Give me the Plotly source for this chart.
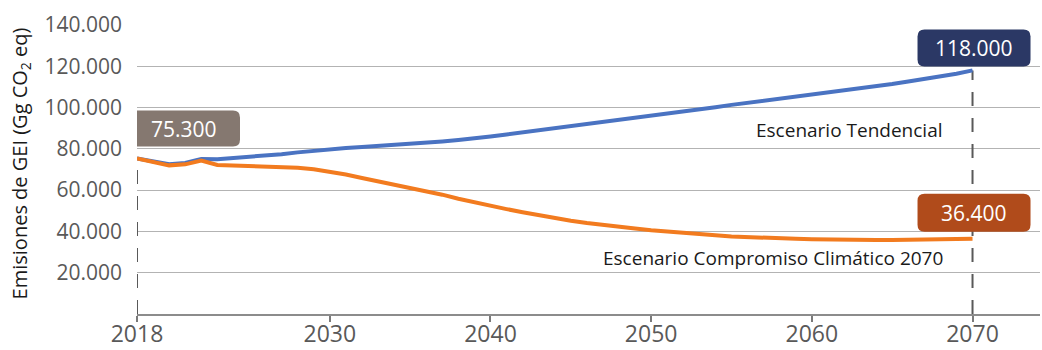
import plotly.graph_objects as go

# Emissions pathways, Gg CO2 eq per year
years = list(range(2018, 2071))

tendencial = [
    75300, 73800, 72500, 73200, 75100, 75000, 75500, 76000, 76600, 77400,
    78300, 79100, 79900, 80400, 80900, 81400, 81800, 82200, 82900, 83600,
    84300, 85000, 86000, 87000, 88000, 89000, 90000, 91000, 91900, 92800,
    93700, 94700, 95800, 96900, 98000, 99100, 100200, 101300, 102300, 103300,
    104300, 105200, 106100, 107000, 108100, 109200, 110300, 111400, 112600, 113800,
    115000, 116400, 118000,
]

compromiso = [
    75300, 73800, 72000, 72500, 74300, 72200, 72000, 71800, 71500, 71300,
    70800, 70100, 69000, 67600, 65900, 64300, 62700, 61200, 59500, 57800,
    55800, 54000, 52300, 50800, 49300, 47800, 46500, 45200, 44100, 43100,
    42200, 41400, 40600, 39900, 39200, 38600, 38100, 37600, 37200, 36900,
    36600, 36400, 36200, 36000, 35900, 35800, 35800, 35900, 36000, 36100,
    36200, 36300, 36400,
]

series_names = ["Escenario Tendencial", "Escenario Compromiso Climático 2070"]
y_ticks = [20000, 40000, 60000, 80000, 100000, 120000, 140000]
x_ticks = [2018, 2030, 2040, 2050, 2060, 2070]

BLUE = "#4a73c2"
ORANGE = "#f27b1f"
FONT = "Open Sans"

fig = go.Figure()

# Dashed guides from the axis up to the first and last values
start_year, end_year = years[0], years[-1]
guide_style = dict(color="#595959", width=2, dash="14px,12px")
fig.add_trace(go.Scatter(x=[start_year, start_year], y=[0, tendencial[0]], mode="lines",
                         line=guide_style, hoverinfo="skip", showlegend=False))
fig.add_trace(go.Scatter(x=[end_year, end_year], y=[0, tendencial[-1]], mode="lines",
                         line=guide_style, hoverinfo="skip", showlegend=False))

fig.add_trace(go.Scatter(x=years, y=tendencial, mode="lines", name=series_names[0],
                         line=dict(color=BLUE, width=4), showlegend=False))
fig.add_trace(go.Scatter(x=years, y=compromiso, mode="lines", name=series_names[1],
                         line=dict(color=ORANGE, width=4), showlegend=False))


def rounded_box(x0, y0, x1, y1, r=7):
    """SVG path of a rounded rectangle in pixel offsets (y up)."""
    return (
        f"M{x0 + r},{y0} L{x1 - r},{y0} Q{x1},{y0} {x1},{y0 + r} "
        f"L{x1},{y1 - r} Q{x1},{y1} {x1 - r},{y1} "
        f"L{x0 + r},{y1} Q{x0},{y1} {x0},{y1 - r} "
        f"L{x0},{y0 + r} Q{x0},{y0} {x0 + r},{y0} Z"
    )


def fmt(v):
    return f"{v:,}".replace(",", ".")


# Value call-outs: (year, value, colour, box extents in px relative to the point)
callouts = [
    (start_year, tendencial[0], "#857870", (-10, 12, 103, 48)),
    (end_year, tendencial[-1], "#2b3865", (-55, 4, 58, 41)),
    (end_year, compromiso[-1], "#b04b1b", (-55, 7, 58, 45)),
]
for yr, val, col, (bx0, by0, bx1, by1) in callouts:
    fig.add_shape(type="path", xref="x", yref="y", xsizemode="pixel", ysizemode="pixel",
                  xanchor=yr, yanchor=val, path=rounded_box(bx0, by0, bx1, by1),
                  fillcolor=col, line=dict(width=0), layer="above")
    fig.add_annotation(x=yr, y=val, xref="x", yref="y", text=fmt(val), showarrow=False,
                       xshift=(bx0 + bx1) / 2, yshift=(by0 + by1) / 2,
                       font=dict(family=FONT, size=21, color="white"))

# Scenario names
fig.add_annotation(x=2068.3, y=89300, xref="x", yref="y", text=series_names[0],
                   showarrow=False, xanchor="right", yanchor="middle",
                   font=dict(family=FONT, size=19, color="#1a1a1a"))
fig.add_annotation(x=2068.3, y=27200, xref="x", yref="y", text=series_names[1],
                   showarrow=False, xanchor="right", yanchor="middle",
                   font=dict(family=FONT, size=19, color="#1a1a1a"))

# Y-axis title
fig.add_annotation(x=-0.1296, y=0.521, xref="paper", yref="paper",
                   text="Emisiones de GEI (Gg CO<sub>2</sub> eq)", textangle=-90,
                   showarrow=False, xanchor="center", yanchor="middle",
                   font=dict(family=FONT, size=20, color="#1a1a1a"))

fig.update_layout(
    width=1042, height=350,
    margin=dict(l=137, r=2, t=25, b=36),
    paper_bgcolor="white", plot_bgcolor="white",
    separators=",.",
    font=dict(family=FONT, color="#595959"),
    xaxis=dict(range=[2018, 2074.2], tickvals=x_ticks, showgrid=False, zeroline=False,
               automargin=False,
               showline=True, linecolor="#8c8c8c", linewidth=1.5,
               ticks="outside", ticklen=6, tickwidth=1.5, tickcolor="#7a7a7a",
               ticklabelstandoff=-7,
               tickfont=dict(family=FONT, size=23, color="#595959")),
    yaxis=dict(range=[0, 140000], tickvals=y_ticks, tickformat=",d", showgrid=True,
               automargin=False,
               gridcolor="#b3b3b3", gridwidth=1, zeroline=False, showline=False,
               ticks="", ticklabelstandoff=14,
               tickfont=dict(family=FONT, size=21, color="#595959")),
)

fig.write_html("out.html")
